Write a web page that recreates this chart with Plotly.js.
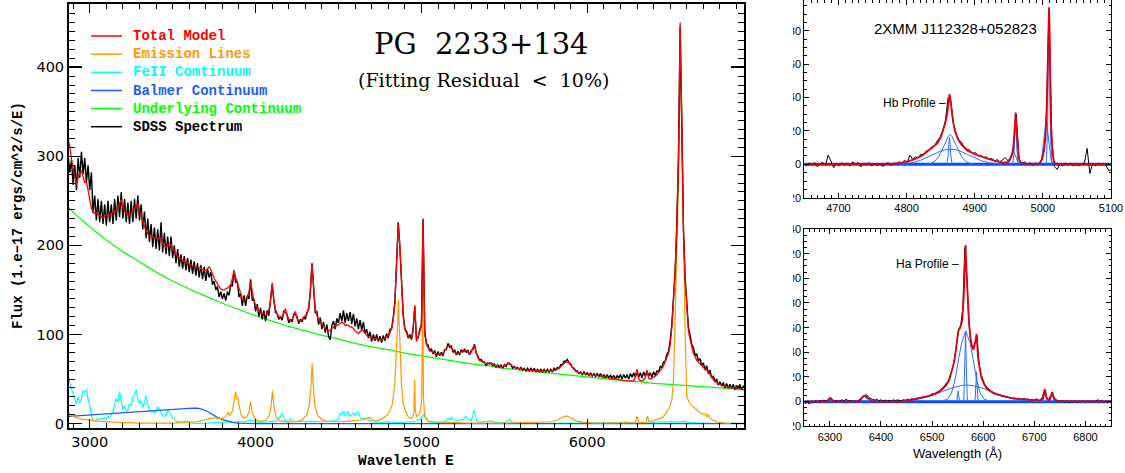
<!DOCTYPE html>
<html><head><meta charset="utf-8">
<script src="https://cdn.plot.ly/plotly-3.0.1.min.js"></script>
<style>html,body{margin:0;padding:0;background:#fff;}#chart{width:1125px;height:473px;}</style>
</head><body><div id="chart"></div>
<script>
// ---------------- LEFT PANEL: PG 2233+134 ----------------
const specStart = 2870, specStep = 10;   // SDSS / model sampling (Angstrom)
const sdssFlux = [
300,282,296,268,290,262,298,276,305,280,
298,270,290,262,282,236,256,228,252,226,
250,224,246,222,250,226,246,224,252,228,
256,232,260,230,252,226,248,224,250,226,
252,230,256,228,246,218,238,208,230,204,
224,198,220,196,218,194,226,192,214,190,
210,188,210,186,200,180,196,176,190,174,
188,172,186,170,184,168,182,166,180,164,
178,162,176,160,174,164,170,156,160,150,
154,142,148,140,146,138,148,144,156,154,
172,158,160,142,146,132,144,132,144,140,
162,138,140,126,134,120,130,117,127,115,
127,121,139,156,139,125,123,117,120,116,
126,125,122,113,117,114,123,122,120,112,
117,114,120,117,125,128,148,180,152,124,
126,111,119,106,114,102,111,98,94,110,
115,106,118,113,124,115,127,113,124,115,
125,112,123,109,118,106,116,105,114,101,
106,96,103,92,100,93,100,92,98,91,
99,93,101,96,106,106,119,137,178,226,
198,150,123,106,104,96,100,94,107,131,
95,96,106,111,230,104,90,88,81,84,
78,82,75,81,76,80,76,83,83,90,
86,87,80,83,77,81,77,83,80,84,
80,82,77,82,83,89,79,76,71,72,
69,69,65,68,67,68,65,67,63,66,
63,66,62,66,64,68,67,66,62,64,
62,63,61,63,60,62,59,62,59,62,
59,62,58,61,58,61,58,61,58,61,
58,61,58,62,60,63,62,66,66,70,
70,72,68,67,63,62,59,59,56,58,
55,58,55,57,54,57,53,56,53,56,
53,56,52,55,51,55,51,54,51,54,
50,54,51,55,50,55,51,55,50,56,
52,57,52,59,52,57,51,58,53,59,
53,57,52,58,54,59,58,64,63,69,
70,78,81,93,112,140,172,222,298,445,
325,218,164,128,108,99,89,85,77,78,
70,73,65,68,60,65,56,60,51,53,
47,50,43,47,42,46,40,45,40,44,
39,44,38,43,39,44,38,42,40];
const modelFlux = [
318,312,296,285,276,268,276,282,284,275,
270,272,262,250,242,238,236,237,235,233,
232,231,233,234,232,234,236,238,236,240,
244,248,251,243,238,236,235,234,236,238,
241,245,247,240,232,226,221,216,213,211,
210,209,208,209,208,209,205,201,199,199,
200,202,201,197,193,190,188,186,184,183,
182,181,180,179,178,177,177,176,175,175,
174,173,172,172,174,176,173,167,163,160,
157,153,151,150,150,151,152,154,156,163,
172,164,158,150,144,140,139,140,142,148,
159,146,138,133,129,126,125,124,123,122,
123,127,137,158,138,128,123,120,119,120,
124,129,122,117,116,117,121,126,118,115,
115,117,118,120,123,130,148,180,148,128,
121,117,114,112,109,107,105,104,105,107,
108,110,110,111,112,114,113,110,111,110,
109,108,107,104,102,101,103,105,104,101,
99,98,97,96,95,95,95,94,94,94,
95,96,97,99,102,107,116,136,175,224,
200,152,120,107,101,98,96,95,104,133,
92,97,103,110,229,100,89,85,82,81,
80,79,78,78,78,78,79,81,84,87,
88,85,82,80,79,78,79,81,82,81,
82,80,78,80,85,87,79,74,71,70,
69,68,67,67,68,67,67,66,65,65,
65,64,64,65,66,67,68,66,64,63,
63,62,62,61,61,61,60,60,60,60,
60,60,60,59,59,59,59,59,59,59,
59,59,59,60,60,61,62,64,66,68,
69,69,68,66,63,61,59,58,57,57,
56,56,56,55,55,55,54,54,54,54,
53,53,53,52,52,52,51,51,50,50,
50,50,49,49,49,48,48,48,48,48,
48,48,52,61,50,48,48,49,52,60,
51,50,51,52,53,55,57,59,62,65,
69,73,79,88,108,138,170,225,300,450,
330,215,160,124,104,94,86,79,75,71,
69,67,65,62,61,60,58,55,52,49,
47,46,45,44,43,42,42,41,41,40,
40,40,40,39,39,39,38,38,38];
const contLam = [2870,2900,3000,3100,3200,3300,3400,3500,3600,3700,3800,3900,4000,4100,4200,4300,4400,4500,4600,4700,4800,4900,5000,5100,5200,5300,5400,5500,5600,5700,5800,5900,6000,6100,6200,6300,6400,6500,6600,6700,6800,6900,6950];
const contFlux = [243,237,221,206,193,181,170,160,151,143,135,128,121,115,109,104,99,95,90,86,83,79,76,73,70,67,65,62,60,58,56,54,52,50,48.5,47,45,44,42.5,41,40,39,38];
const emisLam = [2870,2900,2950,3000,3060,3150,3300,3500,3600,3650,
3700,3730,3760,3780,3800,3820,3835,3845,3860,3870,
3880,3885,3893,3900,3915,3930,3945,3960,3970,3980,
3995,4010,4030,4060,4080,4092,4102,4112,4125,4145,
4170,4200,4240,4280,4310,4325,4335,4341,4347,4357,
4375,4400,4430,4470,4520,4580,4640,4670,4686,4700,
4730,4760,4790,4810,4825,4840,4850,4856,4861,4866,
4872,4880,4890,4905,4920,4935,4948,4955,4959,4963,
4970,4985,4995,5002,5007,5012,5020,5040,5070,5120,
5200,5300,5500,5700,5780,5820,5850,5876,5900,5930,
5970,6050,6250,6290,6300,6310,6355,6363,6372,6400,
6430,6460,6490,6500,6510,6520,6528,6540,6550,6557,
6563,6569,6576,6589,6600,6620,6650,6680,6700,6710,
6716,6722,6731,6740,6760,6790,6830,6950];
const emisFlux = [12,8,5,3.5,2.5,1.5,0.5,0.5,1,2,
4.5,6,6.5,5.5,6,8,13,9,14,28,
36,28,29,20,9,6,7,13,24.5,12,
6,3.5,2.5,3.5,8,17,37,17,7,3,
2,1.5,2,4,10,22,45,68,45,20,
9,4.5,2.5,2,2,3,4,6,7,4,
3,5,9,14,22,45,80,110,139,110,
75,42,23,13,8,6,7,15,49,15,
8,10,15,30,150,30,7,3,2,1.5,
1,0.5,0.5,1,2,4,7,8.5,6.5,3,
1.5,0.5,0.5,1,8.5,1,1.5,8.5,2,3,
5,8,16,20,27,50,105,185,270,360,
405,360,270,109,30,22,17,12,10,10,
11,7,10,6,3.5,1.5,0.5,0.2];
const feLam = [2870,2880,2890,2900,2910,2920,2930,2940,2950,2960,
2970,2980,2990,3000,3010,3020,3030,3040,3050,3060,
3070,3080,3090,3100,3110,3120,3130,3140,3150,3160,
3170,3180,3190,3200,3210,3220,3230,3240,3250,3260,
3270,3280,3290,3300,3310,3320,3330,3340,3350,3360,
3370,3380,3390,3400,3410,3420,3430,3440,3450,3460,
3470,3480,3490,3500,3510,3520,3530,3540,3560,3580,
3600,3620,3660,3700,3760,3800,3840,3880,3900,3920,
3950,3970,3990,4020,4060,4100,4130,4150,4160,4170,
4180,4200,4210,4220,4250,4280,4300,4330,4360,4400,
4440,4480,4500,4510,4520,4530,4540,4550,4560,4570,
4580,4590,4600,4610,4620,4630,4640,4660,4680,4700,
4720,4760,4800,4820,4880,4920,4950,4990,5010,5020,
5030,5040,5080,5120,5150,5160,5170,5180,5190,5200,
5220,5235,5250,5265,5280,5300,5310,5318,5326,5335,
5360,5390,5420,5440,5480,5510,5530,5545,5600,5800,
6100,6200,6240,6280,6400,6440,6470,6500,6530,6560,
6590,6620,6700,6950];
const feFlux = [52,45,38,33,28,22,30,23,28,37,
35,38,28,20,8,4,3,4,6,4,
6,5,7,5,8,7,10,13,22,28,
24,36,25,16,20,14,16,22,20,30,
32,38,27,22,26,18,24,31,22,15,
13,14,12,14,19,16,13,9,8,10,
15,13,10,6,5,3,2,2,1.5,3,
2,0.5,0.3,0.5,1,1.5,1,2,2.5,1.5,
3,4,3,1,1.5,2,3,8,12,7,
3,2,5,3,2,3,2,2.5,2,2,
2.5,3,6,12,10,14,9,11,13,8,
10,12,9,12,13,7,5,6,4,2,
1.5,1,2.5,1,1,2,1.5,5,9,11,
6,2,1,1,3,6,4,7,5,4,
3,5,4,8,5,3,9,15,8,3,
1.5,2,3,1.5,0.5,2,5,1.5,0.5,0.3,
0.3,1,1.5,0.5,1,2,1.5,2.5,1.5,2,
2.5,1,0.5,0.3];
const balLam = [2870,2950,3050,3150,3250,3350,3450,3550,3620,3650,3680,3710,3740,3770,3800,3830,3860,3900,3950,4000,6950];
const balFlux = [8,9,10,11.5,13,14.5,15.5,16.7,17.3,17.2,16,13.5,10,7,4.5,2.5,1.2,0.5,0.2,0,0];
const legendNames = ['Total Model','Emission Lines','FeII Comtinuum','Balmer Continuum','Underlying Continuum','SDSS Spectrum'];

// ---------------- TOP RIGHT: Hbeta region ----------------
const hbStart = 4649, hbStep = 4;
const hbSpec = [0.5,-1,0.8,-0.5,1,-1.5,0.3,1.2,-0.8,5.5,
2,-2,0.5,-1,1,-0.5,0.8,-1.2,1.5,0.2,
1,-1.5,0.7,-0.3,1,-1,0.5,-0.8,0.6,-1.4,
0.2,1,-0.5,0.8,0.3,1.5,0.5,2.5,1.2,5.5,
3,4.5,3.8,6,5.5,8,8.5,10.5,11,14,
16,20,26,40,38,24,18,14.5,13,10,
9,8.5,6.5,7,5,5.5,4,4.5,3,3.5,
2,2.8,1.5,2.5,4,2,4.5,9,30,3,
0.5,1.5,0,1,-0.5,0.8,0.2,1.5,6,25,
93,15,-1.5,-3,0.5,-1,0.8,-0.5,0.6,-1,
0.5,-0.8,0.3,1,9.5,-5.5,0.5,-1,0.8,-0.5,
0.4,-1,-4,-3];
const hbModelLam = [4650,4700,4750,4780,4790,4800,4810,4820,4830,4840,4845,4850,4855,4858,4860,4862,4863,4864,4866,4868,4871,4875,4880,4885,4890,4900,4910,4920,4930,4940,4948,4952,4955,4957,4959,4960,4961,4963,4965,4968,4980,4995,4999,5002,5004,5006,5008,5009,5010,5011,5012,5014,5016,5018,5030,5100];
const hbModel = [0,0,0,0.3,0.8,1.5,2.8,4.6,7.5,10.5,12.5,16,22,27,31,38,42,40,33,26,20,15.5,12,10,8,6,4.5,3.2,2.1,1.2,1.2,3,6,12,24,31,24,10,3,0.5,0.2,0.5,3,9,17,38,80,94,80,48,25,8,2,0.5,0,0];
const hbBroadX = [4790,4800,4810,4820,4830,4840,4850,4860,4870,4880,4890,4900,4910,4920,4930,4940];
const hbBroadY = [0,0.4,1.1,2.3,4.0,6.0,7.9,9.0,8.9,7.7,5.8,3.8,2.1,1.0,0.4,0];
const hbMidX = [4830,4836,4842,4847,4852,4857,4861,4864,4867,4871,4876,4881,4886,4892,4898];
const hbMidY = [0,0.6,2,4.5,8.5,13,16.5,17.9,16.5,13,8.5,4.5,2,0.6,0];
const hbNarX = [4859,4861,4862,4863,4864,4865,4867];
const hbNarY = [0,5,12,15.9,12,5,0];
const o3aNarX = [4956,4958,4959,4960,4961,4962,4964];
const o3aNarY = [0,8,19,24,19,8,0];
const o3aWingX = [4948,4951,4954,4957,4960,4963,4966];
const o3aWingY = [0,1.5,5,7.7,5,1.5,0];
const o3bNarX = [5005,5007,5008,5009,5010,5011,5013];
const o3bNarY = [0,22,62,80,62,22,0];
const o3bWingX = [4994,4998,5001,5005,5009,5012,5016];
const o3bWingY = [0,3,13,28,13,3,0];
const hbBaseX = [4650,5100], hbBaseY = [0,0];

// ---------------- BOTTOM RIGHT: Halpha region ----------------
const haStart = 6248, haStep = 4;
const haSpec = [0.5,-1.5,-0.5,-2,0.5,-1,0.8,0,1,0.3,
1.2,0.5,1.5,3.5,1.8,0.3,1,0.2,0.8,1.5,
0.3,2.2,0.5,1,0.2,0.6,0.2,1,2,4,
5.2,5.5,3.5,2.5,1.8,1.2,1.8,0.8,1.5,0.5,
1.3,0.4,1.2,0.6,1.5,0.8,1.4,1.2,0.8,1.6,
1.2,2,1.5,2.4,2,2.8,2.5,3.5,3.2,4,
3.8,4.8,5,6.5,6,7.5,8,9.5,11,12.5,
15,17,22,27,35,47,58,62,75,125,
100,64,48,43,48,53,30,22,17,13.5,
11.5,9.8,8.5,7.5,6.8,5.5,5.8,4.5,4.8,3.5,
3.8,2.8,3.2,2,2.6,1.5,2.5,1.2,3,1.5,
2.2,1,1.8,0.8,2,0.5,1.5,4,10,3,
1,5,7,1.5,0.5,1,0,0.8,-0.5,0.5,
-0.8,0.6,-0.3,0.7,-0.6,0.4,-0.2,0.5,-0.4,0.8,
0,0.5,-0.5,0.6,1.5,0.3,0.8,-0.5,0.4,-0.6,
0.5,0];
const haModelLam = [6250,6290,6297,6302,6306,6312,6355,6360,6364,6367,6371,6376,6382,6390,6440,6455,6470,6480,6490,6500,6510,6520,6528,6534,6538,6543,6546,6549,6551,6555,6559,6562,6564,6565.5,6567,6569,6572,6575,6578,6581,6584,6587,6590,6594,6597,6602,6607,6614,6620,6635,6652,6670,6685,6700,6705,6709,6714,6717,6721,6724,6728,6731,6735,6738,6745,6850];
const haModel = [0,0,0.8,2.7,0.8,0,0,1.5,4,4.6,4.2,2.5,0.5,0,0,1,2.2,3.2,4.2,5.5,7,10,13.5,18,24,32,40,50,57,60,66,85,110,127,110,88,65,52,45,42,47,55,35,25,19,14,10.8,8.5,6.8,4.8,3.2,2.2,1.6,1.3,2,1,1,3,10,3,1,3,7.6,3,0.5,0];
const haBroadX = [6440,6460,6480,6500,6520,6540,6560,6567,6580,6600,6620,6640,6660,6680,6700,6720];
const haBroadY = [0.3,1.0,2.6,5.0,8.2,11.3,13.3,13.5,13.0,10.7,7.6,4.6,2.4,1.0,0.4,0];
const haMidX = [6520,6530,6538,6545,6552,6558,6566,6574,6580,6587,6594,6602,6612];
const haMidY = [0.5,2,7,18,35,48,57.3,48,35,18,7,2,0.5];
const haNarX = [6562,6564,6565.5,6567,6569];
const haNarY = [0,28,56,28,0];
const n2aX = [6548,6550,6551,6552,6554], n2aY = [0,5,8.6,5,0];
const n2bX = [6584,6586,6587,6588,6590], n2bY = [0,14,24.3,14,0];
const o1aX = [6298,6302,6306], o1aY = [0,2,0];
const o1bX = [6358,6363,6367,6371,6376], o1bY = [0,3,4.5,3,0];
const s2aX = [6717,6719,6721,6723,6725], s2aY = [0,5,10,5,0];
const s2bX = [6731,6733,6735,6737,6739], s2bY = [0,4,7.6,4,0];
const haBaseX = [6250,6850], haBaseY = [0,0];

// ---------------- build ----------------
function grid(start, step, n){ const a=[]; for(let i=0;i<n;i++) a.push(start+i*step); return a; }
function joinParts(parts){ const x=[],y=[]; parts.forEach(([px,py],i)=>{ if(i){x.push(null);y.push(null);} x.push(...px); y.push(...py); }); return {x,y}; }

const C = {red:'#ff0000', orange:'#ff9900', cyan:'#00ffff', blue:'#1f5aff', green:'#00ff00', black:'#000000'};
const specLam = grid(specStart, specStep, sdssFlux.length);

const traces = [];
function L(x,y,color,width,xa,ya){ traces.push({type:'scatter',mode:'lines',x:x,y:y,xaxis:xa,yaxis:ya,line:{color:color,width:width},hoverinfo:'skip',showlegend:false}); }
// left
L(contLam, contFlux, C.green, 1.2, 'x','y');
L(feLam, feFlux, C.cyan, 1.2, 'x','y');
L(balLam, balFlux, C.blue, 1.3, 'x','y');
L(emisLam, emisFlux, C.orange, 1.2, 'x','y');
L(specLam, sdssFlux, C.black, 1.4, 'x','y');
L(specLam, modelFlux, C.red, 1.3, 'x','y');
// top right
const rRed = '#dd0010', rBlue = '#2a6cff';
L(hbBaseX, hbBaseY, '#0a4cff', 3, 'x2','y2');
L(grid(hbStart, hbStep, hbSpec.length), hbSpec, '#000', 1, 'x2','y2');
const hbComp = joinParts([[hbBroadX,hbBroadY],[hbMidX,hbMidY],[hbNarX,hbNarY],[o3aNarX,o3aNarY],[o3aWingX,o3aWingY],[o3bNarX,o3bNarY],[o3bWingX,o3bWingY]]);
L(hbComp.x, hbComp.y, rBlue, 1, 'x2','y2');
L(hbModelLam, hbModel, rRed, 1.8, 'x2','y2');
// bottom right
L(haBaseX, haBaseY, '#0a4cff', 3, 'x3','y3');
L(grid(haStart, haStep, haSpec.length), haSpec, '#000', 1, 'x3','y3');
const haComp = joinParts([[haBroadX,haBroadY],[haMidX,haMidY],[haNarX,haNarY],[n2aX,n2aY],[n2bX,n2bY],[o1aX,o1aY],[o1bX,o1bY],[s2aX,s2aY],[s2bX,s2bY]]);
L(haComp.x, haComp.y, rBlue, 1, 'x3','y3');
L(haModelLam, haModel, rRed, 1.8, 'x3','y3');

const W=1125, H=473;
const px = v => v/W, py = v => 1 - v/H;

function axisBase(extra){
  return Object.assign({ticks:'inside', mirror:'allticks', showline:true, linecolor:'#000', tickcolor:'#000',
    showgrid:false, zeroline:false, fixedrange:true}, extra);
}
const layout = {
  width:W, height:H, margin:{l:0,r:0,t:0,b:0}, paper_bgcolor:'#fff', plot_bgcolor:'#fff', showlegend:false,
  xaxis: axisBase({domain:[px(69),px(744)], range:[2875,6945], anchor:'y', tick0:3000, dtick:1000, ticklen:9, tickwidth:1.5, linewidth:2,
    minor:{dtick:100, ticklen:5, tickwidth:1, tickcolor:'#000', ticks:'inside'},
    tickfont:{family:'DejaVu Sans', size:14.5, color:'#000'}}),
  yaxis: axisBase({domain:[py(428),py(4)], range:[-5,471], anchor:'x', tick0:0, dtick:100, ticklen:13, tickwidth:1.5, linewidth:2,
    minor:{dtick:10, ticklen:6, tickwidth:1, tickcolor:'#000', ticks:'inside'},
    tickfont:{family:'DejaVu Sans', size:14.5, color:'#000'}}),
  xaxis2: axisBase({domain:[px(804.3),px(1111)], range:[4650,5100], anchor:'y2', tick0:4700, dtick:100, ticklen:5, tickwidth:1, linewidth:1,
    minor:{dtick:10, ticklen:2.5, tickwidth:1, tickcolor:'#000', ticks:'inside'},
    tickfont:{family:'Liberation Sans', size:11, color:'#000'}}),
  yaxis2: axisBase({domain:[py(197.7),py(0)], range:[-20,98.4], anchor:'x2', tick0:0, dtick:20, ticklen:5, tickwidth:1, linewidth:1,
    minor:{dtick:5, ticklen:2.5, tickwidth:1, tickcolor:'#000', ticks:'inside'},
    tickfont:{family:'Liberation Sans', size:11, color:'#000'}}),
  xaxis3: axisBase({domain:[px(804.3),px(1111)], range:[6250,6850], anchor:'y3', tick0:6300, dtick:100, ticklen:5, tickwidth:1, linewidth:1,
    minor:{dtick:10, ticklen:2.5, tickwidth:1, tickcolor:'#000', ticks:'inside'},
    tickfont:{family:'Liberation Sans', size:11, color:'#000'}}),
  yaxis3: axisBase({domain:[py(426.3),py(229)], range:[-20,140], anchor:'x3', tick0:0, dtick:20, ticklen:5, tickwidth:1, linewidth:1,
    minor:{dtick:5, ticklen:2.5, tickwidth:1, tickcolor:'#000', ticks:'inside'},
    tickfont:{family:'Liberation Sans', size:11, color:'#000'}}),
  shapes: [
    {type:'rect', xref:'paper', yref:'paper', x0:px(750), x1:px(793), y0:0, y1:1, fillcolor:'#fff', line:{width:0}, layer:'above'}
  ],
  annotations: []
};
const A = layout.annotations;
const legColors = [C.red, C.orange, C.cyan, C.blue, C.green, C.black];
const legRows = [36, 54.2, 72.3, 90.5, 108.5, 126.7];
legendNames.forEach((n,i)=>{
  layout.shapes.push({type:'line', xref:'paper', yref:'paper', x0:px(91), x1:px(122), y0:py(legRows[i]), y1:py(legRows[i]), line:{color:legColors[i], width:1.5}});
  A.push({xref:'paper', yref:'paper', x:px(131), y:py(legRows[i]), xanchor:'left', yanchor:'middle', showarrow:false,
    text:n, font:{family:'Liberation Mono', size:14, color:legColors[i], weight:'bold'}});
});
function T(text,x,y,font,extra){ A.push(Object.assign({xref:'paper',yref:'paper',x:px(x),y:py(y),xanchor:'center',yanchor:'middle',showarrow:false,text:text,font:font},extra||{})); }
T('PG  2233+134', 481, 44, {family:'DejaVu Serif', size:29, color:'#000'});
T('(Fitting Residual  <  10%)', 483, 80, {family:'DejaVu Serif', size:19, color:'#000'});
T('Wavelenth E', 406, 461, {family:'Liberation Mono', size:14.5, color:'#000', weight:'bold'});
T('Flux (1.e\u221217 ergs/cm^2/s/E)', 18, 216, {family:'Liberation Mono', size:14, color:'#000', weight:'bold'}, {textangle:-90});
T('2XMM J112328+052823', 955, 28, {family:'Liberation Sans', size:15, color:'#000'});
T('Hb Profile \u2013', 914, 103, {family:'Liberation Sans', size:12, color:'#000'});
T('Ha Profile \u2013', 927.5, 264, {family:'Liberation Sans', size:12, color:'#000'});
T('Wavelength (\u00c5)', 957.5, 453, {family:'Liberation Sans', size:13, color:'#000'});

Plotly.newPlot('chart', traces, layout, {staticPlot:true, displayModeBar:false});
</script>
</body></html>
